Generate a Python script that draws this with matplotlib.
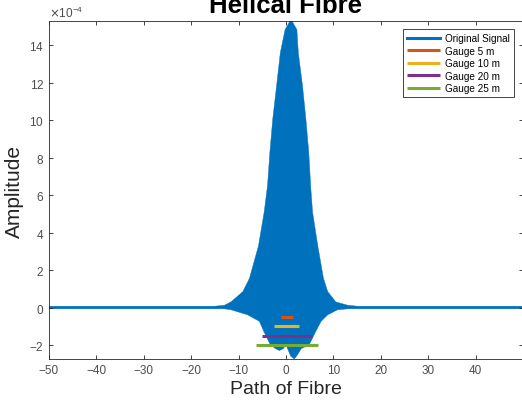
import matplotlib.pyplot as plt
import numpy as np

plt.rcParams['font.family'] = ['Liberation Sans', 'DejaVu Sans']

# envelope of the signal, amplitude in units of 1e-4
upper_x = [-50, -15, -13, -11.6, -9.1, -7.7, -5.8, -4.6, -3.9, -3.4, -2.8, -2.0, -1.2, -0.2, 1.05,
           2.3, 2.6, 3.5, 4.2, 4.8, 5.2, 5.6, 6.7, 7.9, 8.8, 10.5, 13, 15, 50]
upper_y = [0.07, 0.07, 0.12, 0.3, 0.85, 1.56, 3.3, 5.1, 6.5, 8.3, 10.05, 11.8, 13.6, 14.83, 15.4,
           14.83, 13.6, 11.8, 10.05, 8.3, 6.5, 5.1, 3.3, 1.56, 0.85, 0.3, 0.12, 0.07, 0.07]
lower_x = [-50, -13, -11.6, -8.1, -5.6, -4.7, -3.3, -2.2, -1.4, -0.6, 0.0, 0.5, 1.0, 1.75,
           2.5, 3.2, 4.9, 6.3, 7.4, 8.8, 10.9, 13, 50]
lower_y = [-0.07, -0.07, -0.12, -0.39, -0.74, -1.27, -1.99, -2.2, -2.3, -2.2, -2.0, -2.3, -2.6, -2.75,
           -2.5, -2.2, -1.99, -1.27, -0.74, -0.39, -0.12, -0.07, -0.07]

gauge_names = ['Gauge 5 m', 'Gauge 10 m', 'Gauge 20 m', 'Gauge 25 m']
gauge_start = [-1.0, -2.5, -5.1, -6.4]
gauge_end = [1.4, 2.8, 5.5, 6.8]
gauge_level = [-0.5, -1.0, -1.5, -2.0]

colors = ['#0072BD', '#D95319', '#EDB120', '#7E2F8E', '#77AC30']
scale = 1e-4

fig = plt.figure(figsize=(5.22, 4.02), dpi=100)
ax = fig.add_axes([49 / 522, 42 / 402, 474 / 522, 338 / 402])

px = np.concatenate([upper_x, lower_x[::-1]])
py = np.concatenate([upper_y, lower_y[::-1]]) * scale
ax.fill(px, py, color=colors[0], lw=0.3, ec=colors[0])
ax.plot([], [], color=colors[0], lw=2.2, label='Original Signal')

for i in range(len(gauge_names)):
    ax.plot([gauge_start[i], gauge_end[i]], [gauge_level[i] * scale] * 2, color=colors[i + 1],
            lw=2.2, solid_capstyle='butt', label=gauge_names[i])

ax.set_xlim(-50, 50)
ax.set_ylim(-2.75e-4, 15.3e-4)
ax.set_xticks(np.arange(-50, 50, 10))
ax.set_yticks(np.arange(-2, 15, 2) * scale)
ax.ticklabel_format(axis='y', style='sci', scilimits=(-4, -4), useMathText=True)
ax.tick_params(direction='in', top=True, right=True, length=3, width=0.6, labelsize=8.5,
               colors='#262626', labelcolor='#4d4d4d')
ax.yaxis.get_offset_text().set_fontsize(8.5)
ax.yaxis.get_offset_text().set_color('#4d4d4d')
for s in ax.spines.values():
    s.set_color('#262626')
    s.set_linewidth(0.6)

ax.set_xlabel('Path of Fibre', fontsize=14, color='#262626', labelpad=3)
ax.set_ylabel('Amplitude', fontsize=15, color='#262626', labelpad=4)
fig.text(0.547, 0.968, 'Helical Fibre', fontsize=18.5, fontweight='bold', ha='center', va='baseline')

leg = ax.legend(loc='upper right', fontsize=7.2, fancybox=False, framealpha=1, edgecolor='#262626',
                handlelength=3.3, borderpad=0.4, labelspacing=0.25, handletextpad=0.5,
                borderaxespad=0, bbox_to_anchor=(0.981, 0.976))
leg.get_frame().set_linewidth(0.6)

fig.savefig('out.png', dpi=100)
